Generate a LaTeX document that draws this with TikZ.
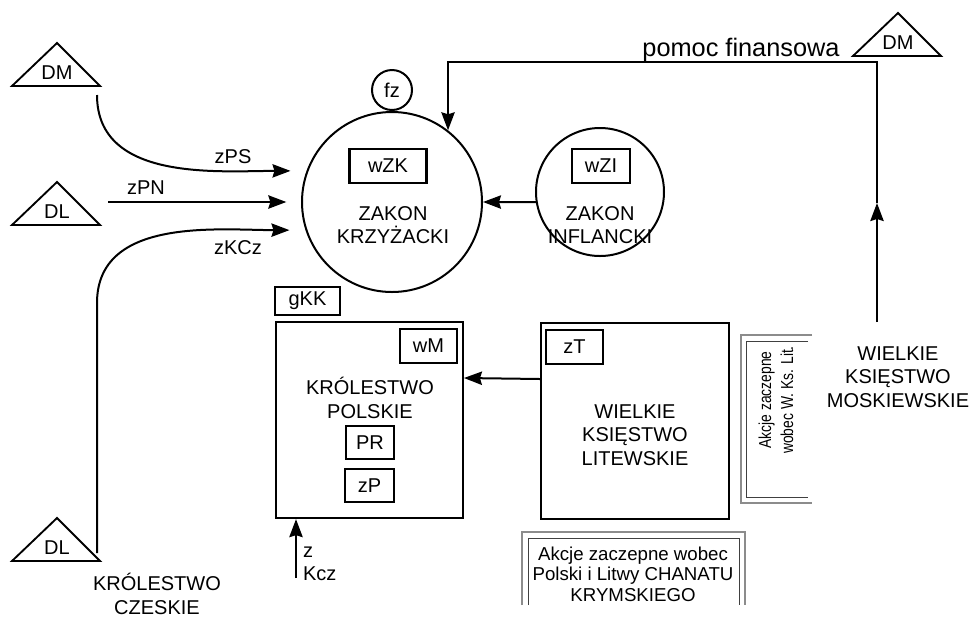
\documentclass[tikz,border=0pt]{standalone}
\usepackage{fontspec}
\setmainfont{Liberation Sans}
\newfontfamily\waski[FakeStretch=0.8]{Liberation Sans}
\usetikzlibrary{positioning, arrows.meta, calc}
\tikzset{every node/.append style={execute at begin node={\hyphenpenalty=10000\exhyphenpenalty=10000\relax}}}

\begin{document}
\begin{tikzpicture}[x=0.75pt, y=-0.75pt, line width=1.5pt,
  font=\fontsize{15}{17.5}\selectfont,
  arr/.style={-{Stealth[length=13.5pt, width=10pt, inset=1.5pt]}},
  ramka/.style={draw, line width=1.7pt, inner sep=0pt},
  kolo/.style={draw, circle, line width=1.5pt, inner sep=0pt},
  napis/.style={align=center, inner sep=0pt},
  obwodka/.style={draw=black!45, line width=1.6pt},
  obwodkaw/.style={draw=black!75, line width=0.6pt}]
  \useasboundingbox (0,0) rectangle (972,619);

  % zakony
  \node[kolo, minimum size=135pt] (zk) at (392,202) {};
  \node[kolo, minimum size=30pt, above=0pt of zk] (fz) {fz};
  \node[ramka, minimum width=57.75pt, minimum height=25.5pt] (wzk) at (388,166) {wZK};
  \node[napis] (zkt) at (393,225) {ZAKON\\KRZYŻACKI};
  \node[kolo, minimum size=96pt] (zi) at (600,192) {};
  \node[ramka, minimum width=43pt, minimum height=25.5pt] (wzi) at (601,166) {wZI};
  \node[napis] (zit) at (600,225) {ZAKON\\INFLANCKI};

  % Korona
  \node[ramka, minimum width=140pt, minimum height=147pt] (kp) at (369.5,420) {};
  \node[ramka, minimum width=49pt, minimum height=21pt] (gkk) at (307.5,301) {gKK};
  \node[ramka, minimum width=43pt, minimum height=25.5pt] (wm) at (428.5,346) {wM};
  \node[napis] (kpt) at (370,398) {KRÓLESTWO\\POLSKIE};
  \node[ramka, minimum width=36pt, minimum height=25pt] (pr) at (370,442.5) {PR};
  \node[ramka, minimum width=37pt, minimum height=25pt] (zp) at (369.5,485.5) {zP};

  % Litwa
  \node[ramka, minimum width=141pt, minimum height=147pt] (wkl) at (635,421) {};
  \node[ramka, minimum width=43pt, minimum height=25.5pt] (zt) at (574.5,347) {zT};
  \node[napis] (wklt) at (635,435) {WIELKIE\\KSIĘSTWO\\LITEWSKIE};

  \node[napis] (wkm) at (898,377) {WIELKIE\\KSIĘSTWO\\MOSKIEWSKIE};
  \node[napis] (kcz) at (157,594) {KRÓLESTWO\\CZESKIE};

  % ramki z akcjami
  \node[napis, font=\fontsize{14}{15.5}\selectfont] (krym) at (633,574) {Akcje zaczepne wobec\\Polski i Litwy CHANATU\\KRYMSKIEGO};
  \draw[obwodka] (522,605) -- (522,532) -- (745,532) -- (745,605);
  \draw[obwodkaw] (528,605) -- (528,538) -- (739,538) -- (739,605);
  \node[napis, rotate=90, font=\waski\fontsize{13}{16.5}\selectfont] (akcje) at (776,400) {Akcje zaczepne\\wobec W. Ks. Lit.};
  \draw[obwodka] (812,335) -- (741,335) -- (741,503) -- (812,503);
  \draw[obwodkaw] (808,341) -- (746,341) -- (746,497) -- (808,497);

  % trojkaty DM / DL
  \foreach \n/\x/\y/\t in {dmA/57/43/DM, dlA/57/182/DL, dlB/57/518/DL, dmB/898/13/DM}{
    \draw[line width=1.4pt] (\x,\y) -- ++(-45,43) -- ++(88,0) -- cycle;
    \node (\n) at (\x,\y+30) {\t};
  }

  % strzalki z lewej
  \coordinate (psA) at (97,95);
  \coordinate (pnA) at (108,202);
  \coordinate (csA) at (97,553);
  \coordinate (csB) at (97,303);
  \draw[arr, shorten >=12pt] (psA) to[out=-90, in=180] (zk.160);
  \draw[arr, shorten >=11pt] (pnA) -- (zk.west);
  \draw[arr, shorten >=12pt] (csA) -- (csB) to[out=90, in=180] (zk.198);
  \node (lps) at (233,157) {zPS};
  \node (lpn) at (146,188) {zPN};
  \node (lkcz) at (238,248) {zKCz};

  \draw[arr] (zi.189) -- (zk.east);
  \draw[arr] ([yshift=31.5pt]wkl.west) -- ([yshift=31.5pt]kp.east);

  \coordinate (zkczA) at (296,578);
  \draw[arr] (zkczA) -- (zkczA |- kp.south);
  \node[napis, anchor=west, align=left] (zkczt) at (302,564) {z\\Kcz};

  % pomoc z Moskwy
  \coordinate (moskA) at (877,322);
  \coordinate (moskB) at (877,203);
  \coordinate (pomocR) at (877,62);
  \draw[arr] (moskA) -- (moskB);
  \draw[arr] (moskB) -- (pomocR) -| (zk.52);
  \node[anchor=base, font=\fontsize{19}{22}\selectfont] (pomoc) at (741,56) {pomoc finansowa};
\end{tikzpicture}
\end{document}
